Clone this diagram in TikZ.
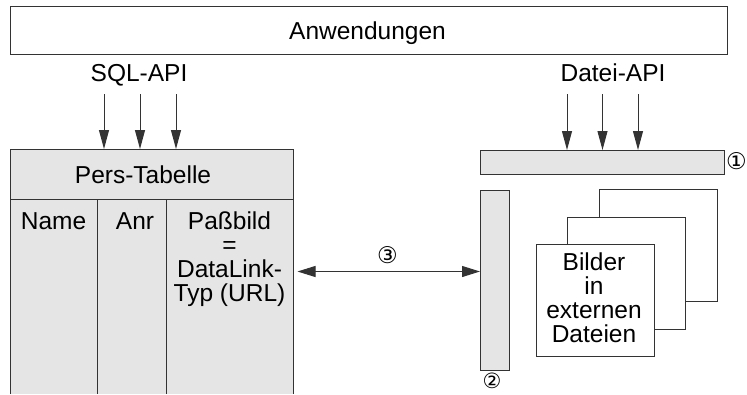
\documentclass[tikz,border=0pt]{standalone}
\usepackage{fontspec}
\setmainfont{Liberation Sans}
\newfontfamily\circfont{DejaVu Sans}
\usetikzlibrary{arrows.meta}
\begin{document}
\begin{tikzpicture}[x=1pt,y=-1pt,
  lbl/.style={font=\fontsize{24.5}{24}\selectfont, inner sep=0pt},
  ln/.style={draw=black!80, line width=1pt},
  gbox/.style={ln, fill=black!10, inner sep=0pt, anchor=north west},
  page/.style={ln, fill=white, inner sep=0pt, anchor=north west, minimum width=118pt, minimum height=112pt},
  arr/.style={ln, -{Triangle[length=19pt,width=10pt]}},
  darr/.style={ln, {Triangle[length=18pt,width=11pt]}-{Triangle[length=18pt,width=11pt]}},
  num/.style={font=\circfont\fontsize{23}{23}\selectfont, inner sep=0pt}]
\useasboundingbox (0,0) rectangle (747,394);
% top box
\node[ln, inner sep=0pt, anchor=north west, minimum width=717pt, minimum height=48pt] (app) at (10,6) {};
\node[lbl, anchor=base] (appt) at (367.5,39) {Anwendungen};
\node[lbl, anchor=base] (sql) at (139,81) {SQL-API};
\node[lbl, anchor=base] (datei) at (613,81.5) {Datei-API};
% table
\fill[black!10] (10,149) rectangle (293,394);
\coordinate (tl) at (10,149);
\coordinate (tr) at (293,149);
\coordinate (bl) at (10,394);
\coordinate (br) at (293,394);
\draw[ln] (bl) -- (tl) -- (tr) -- (br);
\coordinate (hl) at (10,199);
\coordinate (hr) at (293,199);
\draw[ln] (hl) -- (hr);
\coordinate (c1t) at (97,199);
\coordinate (c1b) at (97,394);
\coordinate (c2t) at (166,199);
\coordinate (c2b) at (166,394);
\draw[ln] (c1t) -- (c1b);
\draw[ln] (c2t) -- (c2b);
\node[lbl, anchor=base] (pers) at (143,183.3) {Pers-Tabelle};
\node[lbl, anchor=base] (name) at (53.5,229.3) {Name};
\node[lbl, anchor=base] (anr) at (135,229.3) {Anr};
\node[lbl, anchor=north, align=center] (pass) at (229.5,212) {Paßbild\\=\\DataLink-\\Typ (URL)};
% SQL arrows
\foreach \i/\x in {1/104,2/140,3/176}{
  \coordinate (s\i) at (\x,94);
  \coordinate (t\i) at (\x,149);
  \draw[arr] (s\i) -- (t\i);
}
% bars
\node[gbox, minimum width=244pt, minimum height=24pt] (bar1) at (480,150) {};
\node[gbox, minimum width=29pt, minimum height=180pt] (bar2) at (480,190) {};
\foreach \i/\x in {4/567,5/602.5,6/638}{
  \coordinate (s\i) at (\x,94);
  \draw[arr] (s\i) -- (s\i |- bar1.north);
}
% pages
\node[page] (p3) at (599,189) {};
\node[page] (p2) at (567,216.5) {};
\node[page] (p1) at (536,244) {};
\node[lbl, anchor=north, align=center] (bild) at (594,253) {Bilder\\in\\externen\\Dateien};
% double arrow
\coordinate (dl) at (297.5,271.5);
\draw[darr] (dl) -- (dl -| bar2.west);
% numbers
\node[num] (n1) at (736.5,161) {①};
\node[num, font=\circfont\fontsize{21}{21}\selectfont] (n2) at (492,381) {②};
\node[num] (n3) at (387.5,255) {③};
\end{tikzpicture}
\end{document}
